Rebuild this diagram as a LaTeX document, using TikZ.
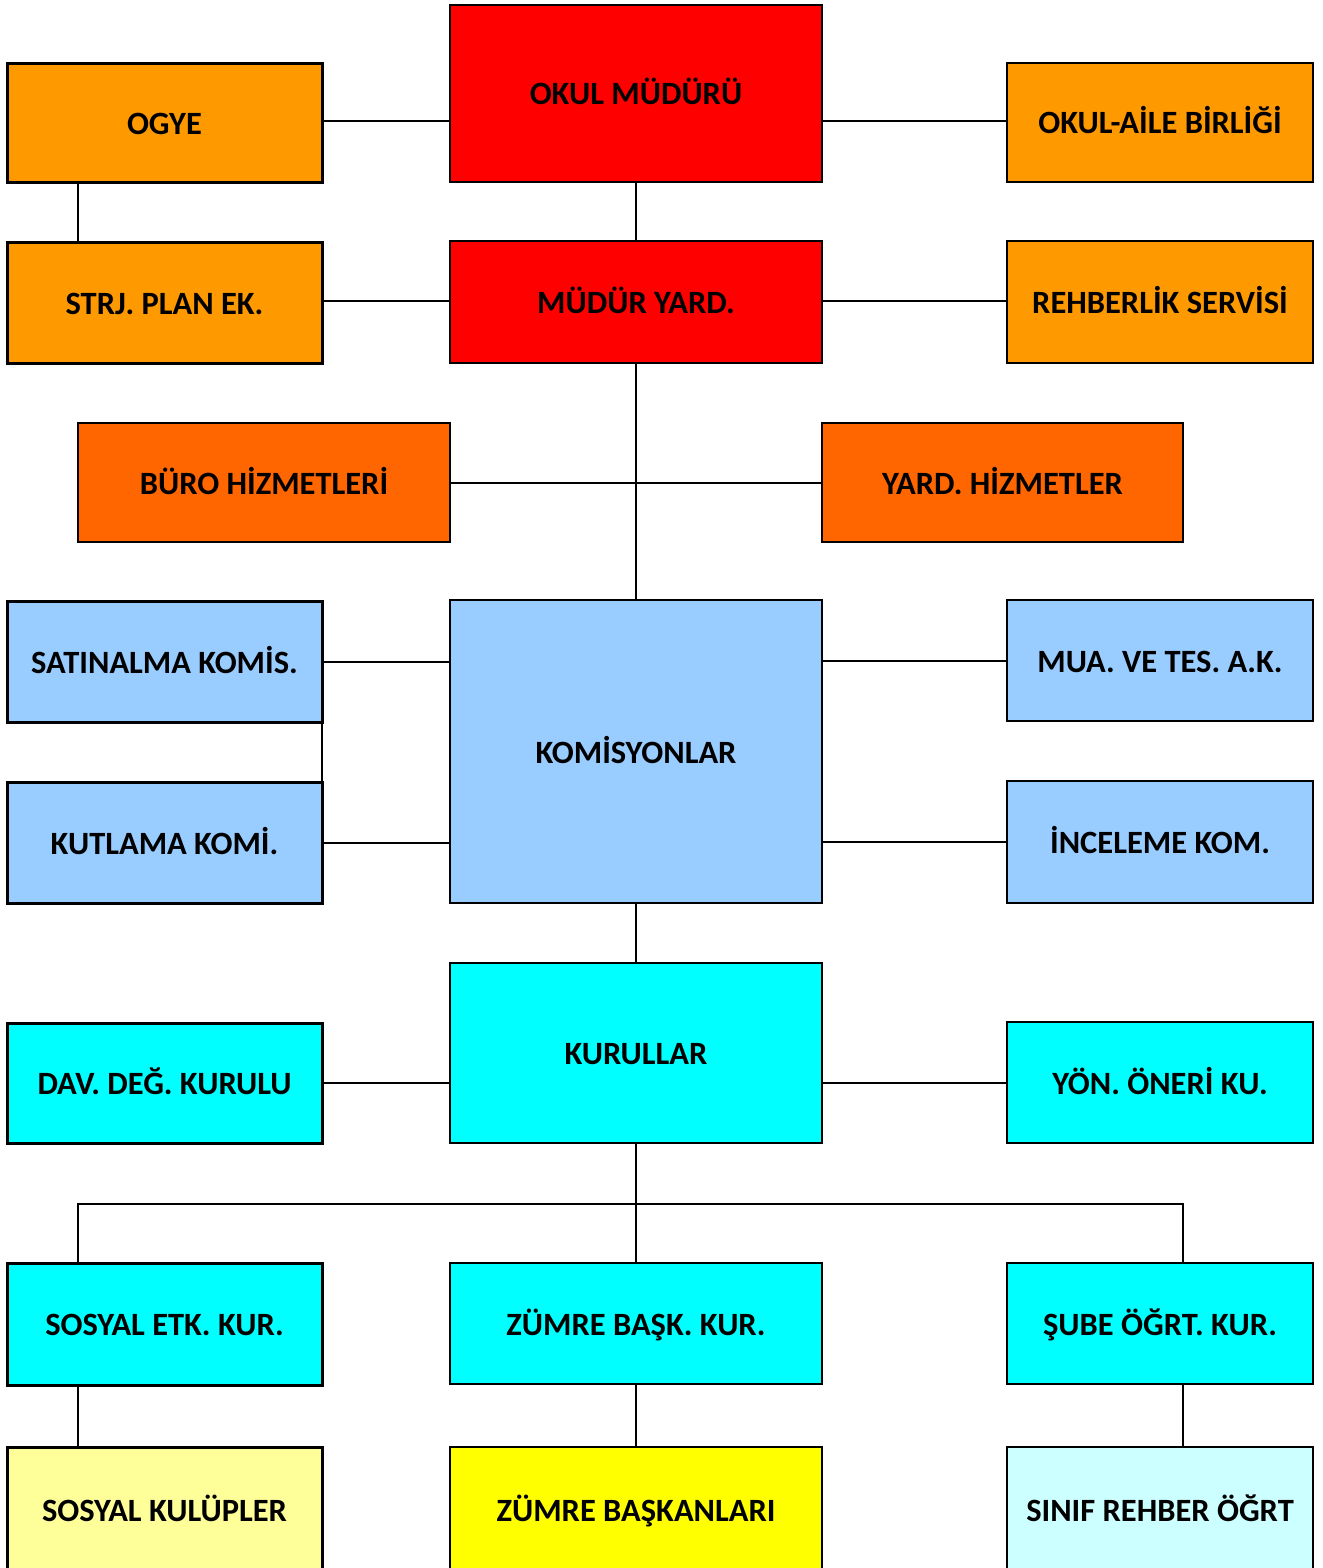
\documentclass[tikz,border=0pt]{standalone}
\usepackage{fontspec}
\setmainfont{Carlito}
\usetikzlibrary{calc}
\definecolor{corange}{HTML}{FF9900}
\definecolor{cred}{HTML}{FF0000}
\definecolor{cdorange}{HTML}{FF6600}
\definecolor{cblue}{HTML}{99CCFF}
\definecolor{ccyan}{HTML}{00FFFF}
\definecolor{cpyellow}{HTML}{FFFF99}
\definecolor{cyellow}{HTML}{FFFF00}
\definecolor{cpcyan}{HTML}{CCFFFF}
\tikzset{
  box/.style={draw=black, line width=2pt, rectangle, inner sep=0pt, outer sep=0pt,
    font=\bfseries\fontsize{32.5}{38}\selectfont, text height=23pt, text depth=0pt, align=center},
  thick box/.style={box, line width=3pt},
  lcol/.style={thick box, minimum width=315pt},
  ccol/.style={box, minimum width=372pt},
  rcol/.style={box, minimum width=306pt},
  conn/.style={draw=black, line width=2pt}
}
\begin{document}
\begin{tikzpicture}[x=1pt,y=-1pt]
\useasboundingbox (0,0) rectangle (1322,1568);
\clip (0,0) rectangle (1322,1568);
\fill[white] (0,0) rectangle (1322,1568);
% row 0/1
\node[ccol, fill=cred, minimum height=177pt] (mudur) at (636,93.5) {OKUL MÜDÜRÜ};
\node[lcol, fill=corange, minimum height=118pt] (ogye) at (164.5,123) {OGYE};
\node[rcol, fill=corange, minimum height=119pt] (oab) at (1160,122.5) {OKUL-AİLE BİRLİĞİ};
% row 2
\node[lcol, fill=corange, minimum height=121pt] (strj) at (164.5,302.5) {STRJ. PLAN EK.};
\node[ccol, fill=cred, minimum height=122pt] (myard) at (636,302) {MÜDÜR YARD.};
\node[rcol, fill=corange, minimum height=122pt] (rehber) at (1160,302) {REHBERLİK SERVİSİ};
% row 3
\node[box, fill=cdorange, minimum width=372pt, minimum height=119pt] (buro) at (264,482.5) {BÜRO HİZMETLERİ};
\node[box, fill=cdorange, minimum width=361pt, minimum height=119pt] (yardh) at (1002.5,482.5) {YARD. HİZMETLER};
% komisyonlar
\node[ccol, fill=cblue, minimum height=303pt] (komis) at (636,751.5) {KOMİSYONLAR};
\node[lcol, fill=cblue, minimum height=121pt] (satin) at (164.5,661.5) {SATINALMA KOMİS.};
\node[lcol, fill=cblue, minimum height=121pt] (kutlama) at (164.5,842.5) {KUTLAMA KOMİ.};
\node[rcol, fill=cblue, minimum height=121pt] (mua) at (1160,660.5) {MUA. VE TES. A.K.};
\node[rcol, fill=cblue, minimum height=122pt] (incele) at (1160,842) {İNCELEME KOM.};
% kurullar
\node[ccol, fill=ccyan, minimum height=180pt] (kurul) at (636,1053) {KURULLAR};
\node[lcol, fill=ccyan, minimum height=120pt] (dav) at (164.5,1083) {DAV. DEĞ. KURULU};
\node[rcol, fill=ccyan, minimum height=121pt] (yon) at (1160,1082.5) {YÖN. ÖNERİ KU.};
% row kur
\node[lcol, fill=ccyan, minimum height=122pt] (sosyal) at (164.5,1324) {SOSYAL ETK. KUR.};
\node[ccol, fill=ccyan, minimum height=121pt] (zumre) at (636,1323.5) {ZÜMRE BAŞK. KUR.};
\node[rcol, fill=ccyan, minimum height=121pt] (sube) at (1160,1323.5) {ŞUBE ÖĞRT. KUR.};
% bottom
\node[lcol, fill=cpyellow, minimum height=126pt] (kulup) at (164.5,1510) {SOSYAL KULÜPLER};
\node[ccol, fill=cyellow, minimum height=126pt] (zbas) at (636,1510) {ZÜMRE BAŞKANLARI};
\node[rcol, fill=cpcyan, minimum height=126pt] (sinif) at (1160,1510) {SINIF REHBER ÖĞRT};
% connectors
\coordinate (bus) at (636,1204);
\draw[conn] (ogye.east |- 0,121) -- (mudur.west |- 0,121);
\draw[conn] (mudur.east |- 0,121) -- (oab.west |- 0,121);
\draw[conn] (ogye.south -| buro.west) -- (strj.north -| buro.west);
\draw[conn] (mudur.south) -- (myard.north);
\draw[conn] (strj.east |- 0,301) -- (myard.west |- 0,301);
\draw[conn] (myard.east |- 0,301) -- (rehber.west |- 0,301);
\draw[conn] (myard.south) -- (komis.north);
\draw[conn] (buro.east) -- (yardh.west);
\draw[conn] (satin.east) -- (satin.east -| komis.west);
\draw[conn] (kutlama.east) -- (kutlama.east -| komis.west);
\draw[conn] (satin.south east) -- (kutlama.north east);
\draw[conn] (mua.west) -- (mua.west -| komis.east);
\draw[conn] (incele.west) -- (incele.west -| komis.east);
\draw[conn] (komis.south) -- (kurul.north);
\draw[conn] (dav.east) -- (dav.east -| kurul.west);
\draw[conn] (yon.west) -- (yon.west -| kurul.east);
\draw[conn] (kurul.south) -- (zumre.north);
\draw[conn] (sosyal.north -| buro.west) |- (bus) -| (sube.north -| yardh.east);
\draw[conn] (sosyal.south -| buro.west) -- (kulup.north -| buro.west);
\draw[conn] (zumre.south) -- (zbas.north);
\draw[conn] (sube.south -| yardh.east) -- (sinif.north -| yardh.east);
\end{tikzpicture}
\end{document}
